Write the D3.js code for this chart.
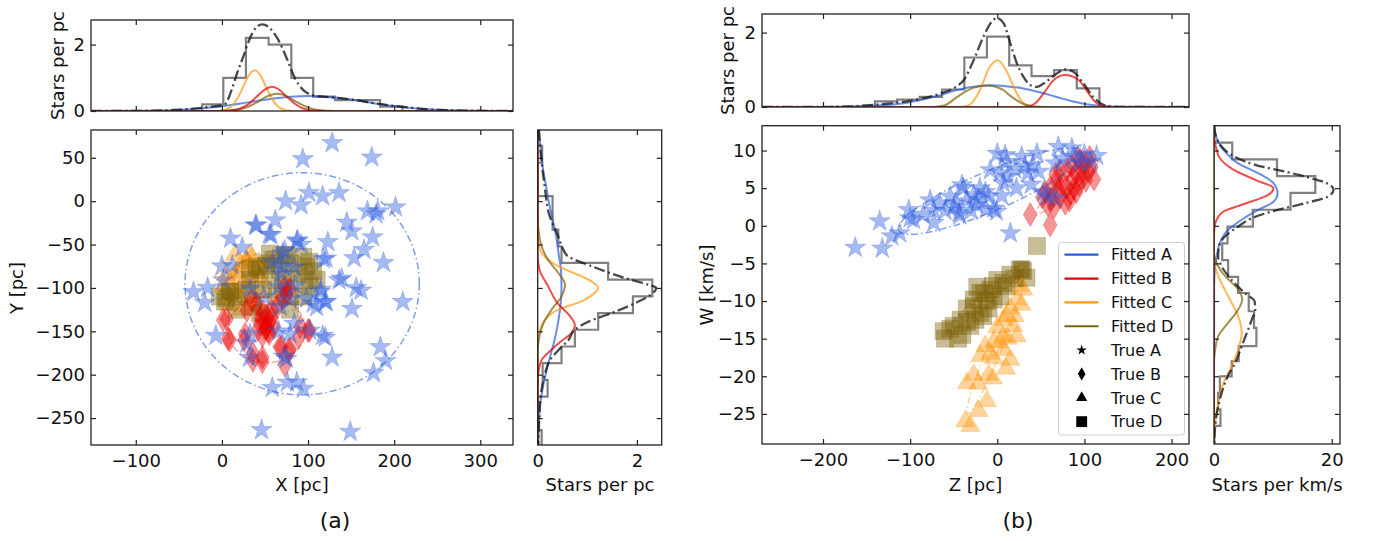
<!DOCTYPE html>
<html><head><meta charset="utf-8">
<script src="https://cdn.jsdelivr.net/npm/d3@7"></script>
<style>
body{margin:0;background:#fff;}
svg text{font-family:"DejaVu Sans",sans-serif;fill:#111;}
</style></head><body>
<script>
// ---------------- DATA ----------------
const xTicksA = [-100, 0, 100, 200, 300];
const yTicksA = [50, 0, -50, -100, -150, -200, -250];
const densTicksA = [0, 2];
const xTicksB = [-200, -100, 0, 100, 200];
const yTicksB = [10, 5, 0, -5, -10, -15, -20, -25];
const densTicksTopB = [0, 2];
const densTicksRightB = [0, 20];
const groups = ["A", "B", "C", "D"];
const legendLabels = ["Fitted A", "Fitted B", "Fitted C", "Fitted D", "True A", "True B", "True C", "True D"];

// Panel (a) scatter X,Y [pc]
const starsA_XY = [[128,67],[94,48.5],[174,50.5],[101,9.6],[117,5.8],[136,9.6],[74,0],[92,-4.6],[169,-11.5],[181,-11.5],[201.6,-7],[179,-15],[62,-22],[39,-27.7],[40,-28],[55,-38.5],[57,-39],[145,-24.6],[151,-34.6],[175,-41.6],[10,-43],[23.6,-53.5],[87,-46],[88,-45],[123,-47],[165,-56],[118,-67],[153.5,-65.5],[187.6,-71],[0,-75],[12,-74],[1.5,-91],[-16.6,-99.7],[-33,-104.7],[-20,-117],[139,-89],[136,-91],[156,-100],[161.6,-103],[210,-116],[151,-124],[114,-104.7],[121,-116],[110,-122],[70.5,-59.7],[59,-70],[70.5,-75],[33,-101],[66,-99],[85,-97],[79,-113],[98,-112],[-7,-155],[32.6,-153],[79,-153],[120,-157],[117,-155],[128,-180],[184,-168],[190,-184],[176,-198],[32,-180.5],[75,-181.6],[58.5,-215],[76,-209],[87,-208.6],[94.6,-216],[46,-263.6],[149,-265.6],[102,-149],[66,-150],[106,-118],[120,-116],[73,-57],[92,-50],[121,-66],[84,-76],[68,-83],[48.6,-110],[68,-121.7],[84,-141],[115,-102],[29,-164],[72,-179]];
const diamondsB_XY = [[5.5,-135.5],[7,-158.6],[27,-153],[36,-183.6],[47,-180],[50,-147],[47,-155],[67,-168],[73,-189],[79,-170],[101.5,-149],[91,-145],[54,-150],[1.5,-137],[9,-160],[34.5,-114],[44,-141],[52,-145],[55,-152.6],[73,-99],[75,-107],[69,-168],[78,-172],[100,-149],[89,-157],[26,-160],[35.6,-175],[47,-185],[29,-126],[58,-126],[64,-122],[79,-101],[45,-135],[50,-138],[55,-140],[48,-128],[42,-148],[58,-134],[52,-132],[60,-145],[40,-118],[70,-112]];
const trianglesC_XY = [[28.7,-68],[17,-83.3],[9.3,-95],[38.4,-79.3],[44,-87],[25,-75.4],[13,-106],[1.5,-98],[17,-81.6],[28.7,-70],[25,-93],[36,-87.6],[20,-110],[30,-100],[8,-120],[40,-120],[22,-125],[35,-65],[15,-62],[5,-85],[45,-105],[30,-115],[22,-72],[33,-62],[12,-90]];
const squaresD_XY = [[55.8,-60.4],[73,-62],[78.6,-71.6],[98,-75.4],[106,-80.6],[52,-71.6],[44,-79.3],[67.4,-79.3],[88.6,-83],[56,-90.6],[75,-90.6],[32.6,-90.6],[9.3,-104],[3.5,-115.6],[17,-110],[36,-121.7],[17,-125],[79,-110],[94.6,-110],[102,-98],[48,-102],[63.6,-110],[79,-125],[60,-67.8],[40.3,-75.4],[96,-90.6],[110,-90.6],[29,-102],[-2.3,-110],[94.6,-64],[71,-100],[44,-129],[9.3,-104.7],[5.4,-112],[32.6,-77.7],[52,-74.4],[75,-62],[101.5,-70]];

// Panel (b) scatter Z [pc], W [km/s]
const starsA_ZW = [[-163,-2.9],[-132,-3],[-135,0.6],[-121,-1.4],[-112,-1],[-101.6,2.1],[-96,0.8],[-100,1],[-77,3.4],[-73,0.4],[-73,2],[-66,3],[-54,3.9],[-50,2.5],[-44,1.7],[-43,1.4],[-40.5,5.4],[-39,5],[-35.5,3.3],[-27,4.1],[-22,3.5],[-13.8,4.5],[-10,3.9],[-4,2.3],[-1,1.9],[3.4,7],[6.7,5.7],[9,9.4],[10.7,8.5],[15,-1],[22,5],[28,9.2],[31.5,7.9],[35,7],[39,5.5],[40.6,8.1],[45.5,9.6],[47.4,7.2],[53,4.5],[57,3.9],[66.7,3.7],[70,10.5],[66.7,8.3],[85.6,10.3],[87.6,9.2],[95,8.3],[114,9.3],[107,8.5],[0,9.6],[-8,7.4],[-24,2.8],[-12.7,2.2],[-30,2],[-60,2],[-85,1.5],[5,4],[20,7.5],[-20,5],[-48,3],[12,6.5],[75,8.9],[100,9.5]];
const diamondsB_ZW = [[37.8,1.5],[60.7,0.1],[51.6,3.8],[60.7,5.1],[68,6],[72,3.8],[79.5,5.1],[87,6.4],[90.6,4.5],[98,7.3],[106,9.1],[111,6.2],[101.6,6],[83,3.4],[94,5.5],[72,7.3],[55,4.5],[65,2.5],[75,5.5],[80,7.5],[85,8],[90,7],[95,8.8],[100,8.5],[104,7.2],[108,7.8],[62,3.5],[70,4.8],[78,3],[88,5],[58,2.8],[67,6.8],[92,9],[97,6.3],[84,4.3]];
const trianglesC_ZW = [[26,-8],[22.5,-9.8],[11,-12],[18.5,-13.3],[7,-14.7],[-4,-15.4],[-13.8,-16],[-19.5,-17.3],[15,-17.8],[-4,-17.6],[-10,-19.8],[-27,-19.8],[-34.8,-20.9],[-11.8,-23.3],[-21.4,-24.6],[-36.7,-26],[-31,-26.6],[22.5,-14.7],[7,-16.5],[7,-12.5],[28,-10.5],[15,-11],[20,-12],[0,-13.5],[-8,-17],[3,-15.5],[30,-8.5],[-22,-21],[-5,-20.3],[12,-15],[10,-19]];
const squaresD_ZW = [[45.5,-2.7],[28,-5.8],[33.5,-6.9],[26,-5.8],[0,-7.2],[10.7,-8],[-19.5,-8.9],[-12,-10],[-27,-10.7],[-19.5,-11.6],[-42,-12.5],[-61.5,-14],[-50,-13.3],[-34.8,-12.8],[-8,-8.5],[7,-7.6],[29.5,-6],[-4.2,-9.8],[-27,-9.8],[-16,-12],[-54,-13.7],[-31,-13.3],[-23,-8.1],[3.4,-9.4],[-40,-14.5],[-45,-15],[-25,-12.5],[-10,-11],[15,-6.5],[20,-7],[-35,-11],[-5,-8],[-15,-9],[-60,-15]];

// Fitted covariance ellipses: centre, semi-axis vectors (data units)
const ellA_a = [[93.2,-95.2],[136,0],[0,128]];
const ellB_a = [[52,-148],[45,0],[0,38]];
const ellC_a = [[22,-92],[30,0],[0,30]];
const ellD_a = [[62,-93],[48,0],[0,36]];
const ellA_b = [[-8,4.6],[105,5.2],[8.9,-2.42]];
const ellB_b = [[80,5.2],[35,3.4],[2.5,-1.0]];
const ellC_b = [[-2,-16],[32,9],[7.4,-0.4]];
const ellD_b = [[-12,-9.5],[45,4.5],[4.5,-0.6]];

// Histograms: bin edges and densities
const histX_edges = [-22.9, 1.6, 27.9, 54.3, 80.6, 106, 131.4, 157.4, 183.7, 209.7];
const histX_vals = [0.2, 1.0, 2.2, 2.0, 1.0, 0.43, 0.33, 0.33, 0.13];
const histY_edges = [63.6, 44.3, 25, 5.8, -13.5, -32.7, -52, -71.2, -90.5, -109.7, -129, -148.2, -167.5, -186.7, -206, -225.2, -244.5, -263.7, -283];
const histY_vals = [0.09, 0, 0, 0.3, 0.3, 0.415, 0.48, 1.42, 2.31, 1.92, 1.22, 0.75, 0.48, 0.1, 0.2, 0, 0, 0.08];
const histZ_edges = [-140.5, -115, -89, -63.4, -37.8, -11.9, 13.7, 39.3, 65.3, 91.2, 117.2];
const histZ_vals = [0.15, 0.2, 0.27, 0.47, 1.33, 1.89, 1.12, 0.83, 0.99, 0.5];
const histW_edges = [11.05, 8.82, 6.59, 4.36, 2.13, -0.1, -2.33, -4.56, -6.79, -8.93, -11.36, -13.57, -16, -18, -20, -22.2, -24.4, -26.6, -29.09];
const histW_vals = [3.1, 10.7, 17.2, 13.0, 6.6, 2.3, 1.4, 2.4, 4.1, 5.9, 6.8, 7.2, 4.2, 3.0, 1.0, 0.7, 1.1, 0];

// Fitted density curves, X marginal
const fitX_A = [[-152,0.0003],[-100,0.005],[-60,0.024],[-20,0.087],[0,0.143],[20,0.216],[40,0.30],[60,0.375],[80,0.43],[100,0.45],[120,0.43],[140,0.38],[160,0.31],[180,0.22],[200,0.15],[220,0.09],[250,0.034],[290,0.007],[338,0.0005]];
const fitX_B = [[-152,0],[-10,0],[0,0.002],[10,0.014],[20,0.06],[30,0.19],[40,0.42],[50,0.65],[58,0.73],[65,0.67],[75,0.44],[85,0.21],[95,0.068],[105,0.016],[120,0.001],[338,0]];
const fitX_C = [[-152,0],[-10,0],[0,0.017],[10,0.12],[20,0.47],[25,0.75],[30,1.02],[38,1.23],[45,1.06],[50,0.80],[55,0.52],[60,0.29],[70,0.06],[80,0.007],[90,0],[338,0]];
const fitX_D = [[-152,0],[-10,0],[0,0.003],[10,0.013],[20,0.046],[30,0.12],[40,0.25],[50,0.41],[64,0.52],[75,0.45],[85,0.30],[95,0.16],[105,0.064],[115,0.02],[130,0.002],[145,0],[338,0]];
const fitX_tot = [[-152,0],[-95,0.005],[-57,0.03],[-37,0.06],[-18,0.11],[-6,0.15],[2.7,0.18],[11.2,0.63],[17,1.09],[24.8,1.64],[32.6,2.19],[40,2.52],[47,2.61],[55.8,2.49],[65.5,2.14],[75.2,1.59],[84.9,0.98],[94.6,0.63],[106,0.47],[118,0.43],[137,0.39],[157,0.32],[176,0.24],[195,0.17],[215,0.11],[253,0.03],[292,0.01],[338,0]];

// Y marginal (Y, density)
const fitY_A = [[82,0.03],[60,0.06],[40,0.1],[17,0.17],[0,0.22],[-21,0.3],[-40,0.37],[-60,0.42],[-80,0.47],[-100,0.48],[-120,0.46],[-140,0.41],[-160,0.34],[-175,0.27],[-190,0.2],[-210,0.12],[-230,0.06],[-250,0.03],[-283,0.01]];
const fitY_B = [[82,0],[-60,0],[-70,0.01],[-80,0.04],[-98,0.21],[-119,0.42],[-133,0.66],[-143,0.75],[-152,0.68],[-162,0.46],[-172,0.26],[-183,0.08],[-195,0.02],[-210,0],[-283,0]];
const fitY_C = [[82,0],[-40,0],[-50,0.02],[-59.7,0.08],[-67,0.2],[-75,0.41],[-86.6,0.885],[-93,1.1],[-100,1.22],[-108,1.1],[-115.5,0.885],[-125,0.41],[-136.5,0.147],[-148,0.05],[-160,0.01],[-175,0],[-283,0]];
const fitY_D = [[82,0],[-20,0],[-35,0.02],[-48.5,0.06],[-67.8,0.21],[-83,0.42],[-96.3,0.55],[-109.7,0.48],[-125,0.28],[-140.3,0.12],[-152,0.05],[-165,0.01],[-180,0],[-283,0]];
const fitY_tot = [[82,0.02],[56,0.06],[17,0.14],[-17,0.24],[-40,0.41],[-55,0.51],[-63,0.6],[-75,1.09],[-88.6,1.76],[-96.3,2.23],[-100,2.39],[-106,2.32],[-116,2.02],[-127.6,1.55],[-139,1.02],[-148,0.75],[-160,0.62],[-171.6,0.42],[-183,0.25],[-198,0.15],[-225,0.06],[-252,0.03],[-283,0.01]];

// Z marginal
const fitZ_A = [[-270,0],[-200,0.003],[-160,0.02],[-140,0.04],[-122.6,0.06],[-100,0.13],[-84,0.21],[-65,0.32],[-46,0.46],[-30,0.54],[-8,0.585],[10,0.56],[30,0.5],[50,0.39],[68,0.27],[87,0.15],[106.5,0.06],[125,0.02],[145,0.004],[220,0]];
const fitZ_B = [[-270,0],[30,0],[38,0.03],[45,0.13],[53,0.36],[64.5,0.72],[78,0.86],[93.6,0.72],[105,0.36],[112,0.15],[120.8,0.03],[130,0],[220,0]];
const fitZ_C = [[-270,0],[-45,0],[-35,0.03],[-28,0.14],[-20,0.45],[-8.6,1.08],[0.4,1.26],[11,0.95],[20.6,0.45],[28,0.15],[35,0.03],[45,0],[220,0]];
const fitZ_D = [[-270,0],[-80,0],[-70,0.01],[-60,0.05],[-46,0.27],[-36,0.42],[-27,0.52],[-11,0.58],[0,0.53],[7.3,0.45],[15,0.3],[22.5,0.18],[30,0.08],[38,0.03],[48,0.005],[60,0],[220,0]];
const fitZ_tot = [[-270,0],[-200,0.003],[-165,0.02],[-141.7,0.06],[-122.6,0.1],[-103.5,0.15],[-84.4,0.24],[-65.3,0.36],[-46.2,0.56],[-38.6,0.72],[-27.1,1.26],[-15.7,1.9],[-6.1,2.3],[-0.4,2.39],[7.3,2.25],[14.9,1.71],[22.5,1.17],[30.1,0.81],[37.8,0.59],[45.4,0.54],[53,0.63],[68.3,0.9],[77.9,1.01],[87.4,0.95],[98.9,0.63],[110.3,0.27],[121.8,0.06],[133.3,0.01],[150,0],[220,0]];

// W marginal (W, density)
const fitW_A = [[13.3,0.05],[12.3,0.2],[10.1,1.6],[8.3,4.1],[7.0,7.5],[5.66,10.1],[4.3,10.8],[3.2,10.1],[2.1,7.5],[0.8,4.7],[-0.7,2.2],[-2.3,1.0],[-4.1,0.45],[-5.4,0.2],[-8,0.02],[-29,0]];
const fitW_B = [[13.3,0],[11.5,0.1],[10.1,0.45],[8.97,1.0],[7.6,3.0],[6.1,7.0],[5.0,10.1],[4.1,9.2],[2.8,4.7],[1.9,1.6],[0.8,0.45],[-0.1,0.1],[-1.5,0],[-29,0]];
const fitW_C = [[13.3,0],[-4,0],[-5.5,0.2],[-7.16,1.0],[-9.8,2.7],[-12,4.1],[-14.2,4.7],[-16.45,4.1],[-18.7,3.0],[-20.9,1.6],[-23.6,0.7],[-26.2,0.2],[-29,0.05]];
const fitW_D = [[13.3,0],[-3.5,0],[-4.95,0.45],[-6.7,1.9],[-8.27,3.9],[-9.8,4.8],[-11.15,4.1],[-12.9,2.4],[-14.7,0.7],[-16.45,0.2],[-18,0],[-29,0]];
const fitW_tot = [[13.3,0.05],[12.3,0.2],[9.9,2.1],[8.1,7.0],[6.76,14.4],[5.44,19.7],[4.8,20.3],[3.9,19.4],[3.0,15.5],[1.9,9.8],[1.0,6.4],[-0.1,4.1],[-1.4,1.9],[-2.7,0.85],[-4.1,0.7],[-5.4,1.3],[-7.2,3.0],[-9,5.3],[-10.05,6.9],[-11.15,7.0],[-12.5,6.4],[-14.2,5.6],[-16,4.7],[-18.2,3.6],[-19.9,2.4],[-22.2,1.3],[-24.4,0.6],[-26.6,0.2],[-29,0.05]];

// ---------------- STYLE / LAYOUT ----------------
const COL = {A:"#2a5be0", B:"#e80000", C:"#ff9812", D:"#7e6208"};
const FS = 18;
const svg = d3.select("body").append("svg").attr("width",1375).attr("height",541);
svg.append("rect").attr("width",1375).attr("height",541).attr("fill","#fff");
const defs = svg.append("defs");

const xA = d3.scaleLinear().domain([-152, 338]).range([91, 513]);
const yA = d3.scaleLinear().domain([-281, 82]).range([445, 130]);
const yTa = d3.scaleLinear().domain([0, 2.74]).range([111, 20]);
const xRa = d3.scaleLinear().domain([0, 2.5]).range([537.7, 661.7]);
const xB = d3.scaleLinear().domain([-270, 220]).range([762, 1189]);
const yB = d3.scaleLinear().domain([-29, 13.3]).range([444, 125.7]);
const yTb = d3.scaleLinear().domain([0, 2.5]).range([107, 14]);
const xRb = d3.scaleLinear().domain([0, 21.4]).range([1214, 1340]);

const fmt = d3.format("d");
let clipN = 0;
function panel(xs, ys){
  const [x0,x1] = xs.range(), [y1,y0] = ys.range();
  const id = "c"+(clipN++);
  defs.append("clipPath").attr("id",id).append("rect").attr("x",x0).attr("y",y0).attr("width",x1-x0).attr("height",y1-y0);
  return svg.append("g").attr("clip-path",`url(#${id})`);
}
function axes(xs, ys, xt, yt, labX, labY){
  const [x0,x1] = xs.range(), [y1,y0] = ys.range();
  const mk = (fn, sc, tv, tr, lab, pad) => {
    const ax = fn(sc).tickValues(tv).tickSizeInner(-5).tickSizeOuter(0).tickPadding(pad)
      .tickFormat(lab ? fmt : "");
    const g = svg.append("g").attr("transform",tr).call(ax);
    g.select(".domain").remove();
    g.selectAll("line").attr("stroke","#222").attr("stroke-width",1.2);
    g.selectAll("text").attr("font-size",FS).attr("font-family","DejaVu Sans").attr("fill","#111");
  };
  mk(d3.axisBottom, xs, xt, `translate(0,${y1})`, labX, 9);
  mk(d3.axisTop, xs, xt, `translate(0,${y0})`, false, 0);
  mk(d3.axisLeft, ys, yt, `translate(${x0},0)`, labY, 6);
  mk(d3.axisRight, ys, yt, `translate(${x1},0)`, false, 0);
  svg.append("rect").attr("x",x0).attr("y",y0).attr("width",x1-x0).attr("height",y1-y0)
    .attr("fill","none").attr("stroke","#222").attr("stroke-width",1.3);
}
function hLine(xs, ys){ return d3.line().x(d=>xs(d[0])).y(d=>ys(d[1])); }
function vLine(xs, ys){ return d3.line().x(d=>xs(d[1])).y(d=>ys(d[0])); }
function stepPts(edges, vals){
  const p = [[edges[0],0]];
  vals.forEach((v,i)=>{ p.push([edges[i],v]); p.push([edges[i+1],v]); });
  p.push([edges[edges.length-1],0]);
  return p;
}
function marginal(g, lineGen, curveK, hist, fits, tot){
  g.append("path").attr("d", lineGen(hist)).attr("fill","none").attr("stroke","#555")
    .attr("stroke-opacity",0.75).attr("stroke-width",2.2);
  const cg = lineGen.curve(curveK);
  fits.forEach(([k,pts])=>{
    g.append("path").attr("d", cg(pts)).attr("fill","none").attr("stroke",COL[k])
      .attr("stroke-opacity",0.7).attr("stroke-width",2);
  });
  g.append("path").attr("d", cg(tot)).attr("fill","none").attr("stroke","#1a1a1a")
    .attr("stroke-opacity",0.8).attr("stroke-width",2.3).attr("stroke-dasharray","11,3.5,2,3.5");
}
const SYM = {A:[d3.symbolStar,140], B:[d3.symbolDiamond,165], C:[d3.symbolTriangle,160], D:[d3.symbolSquare,290]};
function scatter(g, pts, xs, ys, k){
  g.selectAll(null).data(pts).join("path")
    .attr("d", d3.symbol(SYM[k][0], SYM[k][1]))
    .attr("transform", d=>`translate(${xs(d[0])},${ys(d[1])})`)
    .attr("fill", COL[k]).attr("fill-opacity",0.42)
    .attr("stroke", COL[k]).attr("stroke-opacity",0.3).attr("stroke-width",0.8);
}
function ellipse(g, e, xs, ys, k, op){
  const [c,u,v] = e;
  const pts = d3.range(0, 2*Math.PI+0.001, Math.PI/90).map(t=>[c[0]+u[0]*Math.cos(t)+v[0]*Math.sin(t), c[1]+u[1]*Math.cos(t)+v[1]*Math.sin(t)]);
  g.append("path").attr("d", hLine(xs,ys)(pts)).attr("fill","none").attr("stroke",COL[k])
    .attr("stroke-opacity",op).attr("stroke-width",1.5).attr("stroke-dasharray","7,3,1.5,3");
}
function text(x,y,s,opt={}){
  const t = svg.append("text").attr("x",x).attr("y",y).text(s).attr("font-size",opt.fs||FS)
    .attr("text-anchor","middle").attr("font-family",opt.ff||"DejaVu Sans");
  if(opt.rot) t.attr("transform",`rotate(-90,${x},${y})`);
  return t;
}

// ---------------- PANEL (a) ----------------
const gTa = panel(xA, yTa);
marginal(gTa, hLine(xA,yTa), d3.curveMonotoneX, stepPts(histX_edges, histX_vals),
  [["A",fitX_A],["C",fitX_C],["D",fitX_D],["B",fitX_B]], fitX_tot);
axes(xA, yTa, xTicksA, densTicksA, false, true);

const gMa = panel(xA, yA);
scatter(gMa, trianglesC_XY, xA, yA, "C");
scatter(gMa, squaresD_XY, xA, yA, "D");
scatter(gMa, diamondsB_XY, xA, yA, "B");
scatter(gMa, starsA_XY, xA, yA, "A");
ellipse(gMa, ellA_a, xA, yA, "A", 0.6);
ellipse(gMa, ellB_a, xA, yA, "B", 0.35);
ellipse(gMa, ellC_a, xA, yA, "C", 0.4);
ellipse(gMa, ellD_a, xA, yA, "D", 0.35);
axes(xA, yA, xTicksA, yTicksA, true, true);

const gRa = panel(xRa, yA);
marginal(gRa, vLine(xRa,yA), d3.curveMonotoneY, stepPts(histY_edges, histY_vals),
  [["A",fitY_A],["C",fitY_C],["D",fitY_D],["B",fitY_B]], fitY_tot);
axes(xRa, yA, densTicksA, yTicksA, true, false);

text(64, 65.5, "Stars per pc", {rot:true});
text(23, 288, "Y [pc]", {rot:true});
text(302, 491, "X [pc]");
text(600, 491, "Stars per pc");
text(335, 528, "(a)", {ff:"Liberation Serif", fs:22});

// ---------------- PANEL (b) ----------------
const gTb = panel(xB, yTb);
marginal(gTb, hLine(xB,yTb), d3.curveMonotoneX, stepPts(histZ_edges, histZ_vals),
  [["A",fitZ_A],["C",fitZ_C],["D",fitZ_D],["B",fitZ_B]], fitZ_tot);
axes(xB, yTb, xTicksB, densTicksTopB, false, true);

const gMb = panel(xB, yB);
scatter(gMb, trianglesC_ZW, xB, yB, "C");
scatter(gMb, squaresD_ZW, xB, yB, "D");
scatter(gMb, diamondsB_ZW, xB, yB, "B");
scatter(gMb, starsA_ZW, xB, yB, "A");
ellipse(gMb, ellA_b, xB, yB, "A", 0.6);
ellipse(gMb, ellB_b, xB, yB, "B", 0.3);
ellipse(gMb, ellC_b, xB, yB, "C", 0.45);
ellipse(gMb, ellD_b, xB, yB, "D", 0.35);

// legend
const lg = svg.append("g");
lg.append("rect").attr("x",1058.5).attr("y",242.5).attr("width",126).attr("height",192.5).attr("rx",3)
  .attr("fill","#fff").attr("fill-opacity",0.85).attr("stroke","#cfcfcf").attr("stroke-width",1);
const LSYM = {A:[d3.symbolStar,34], B:[d3.symbolDiamond,50], C:[d3.symbolTriangle,55], D:[d3.symbolSquare,118]};
legendLabels.forEach((lab,i)=>{
  const y = 254.7 + i*23.85, k = groups[i%4];
  if(i<4){
    lg.append("line").attr("x1",1064.5).attr("x2",1098.5).attr("y1",y).attr("y2",y)
      .attr("stroke",COL[k]).attr("stroke-width",2.2);
  } else {
    lg.append("path").attr("d", d3.symbol(LSYM[k][0], LSYM[k][1])).attr("transform",`translate(1081.7,${y})`).attr("fill","#000");
  }
  lg.append("text").attr("x",1111).attr("y",y).attr("dy","0.36em").attr("font-size",16).attr("font-family","DejaVu Sans").text(lab);
});
axes(xB, yB, xTicksB, yTicksB, true, true);

const gRb = panel(xRb, yB);
marginal(gRb, vLine(xRb,yB), d3.curveMonotoneY, stepPts(histW_edges, histW_vals),
  [["A",fitW_A],["C",fitW_C],["D",fitW_D],["B",fitW_B]], fitW_tot);
axes(xRb, yB, densTicksRightB, yTicksB, true, false);

text(734, 60.5, "Stars per pc", {rot:true});
text(713, 285, "W [km/s]", {rot:true});
text(975.5, 491, "Z [pc]");
text(1277, 491, "Stars per km/s");
text(1018, 528, "(b)", {ff:"Liberation Serif", fs:22});
</script>
</body></html>
